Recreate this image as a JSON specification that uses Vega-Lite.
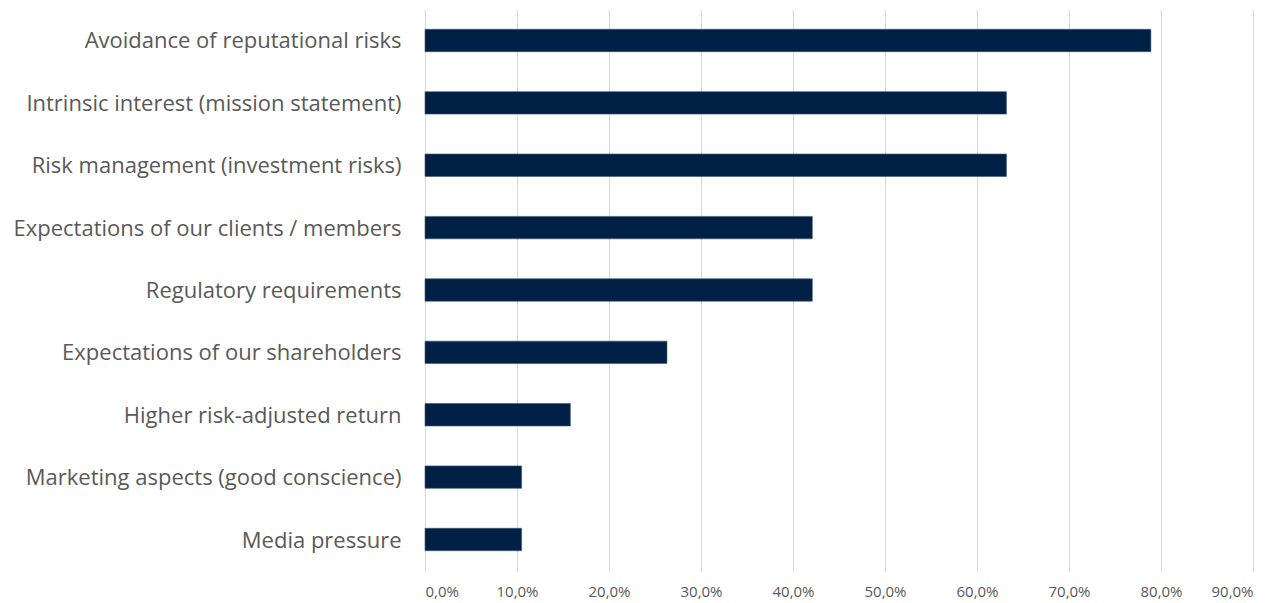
{
  "$schema": "https://vega.github.io/schema/vega-lite/v6.json",
  "autosize": {"type": "none"},
  "padding": {"left": 425, "top": 9, "right": 24, "bottom": 32},
  "width": 828,
  "height": 562,
  "background": "white",
  "config": {"view": {"stroke": null}},
  "data": {"values": [
    {"category": "Avoidance of reputational risks", "value": 0.789},
    {"category": "Intrinsic interest (mission statement)", "value": 0.632},
    {"category": "Risk management (investment risks)", "value": 0.632},
    {"category": "Expectations of our clients / members", "value": 0.421},
    {"category": "Regulatory requirements", "value": 0.421},
    {"category": "Expectations of our shareholders", "value": 0.263},
    {"category": "Higher risk-adjusted return", "value": 0.158},
    {"category": "Marketing aspects (good conscience)", "value": 0.105},
    {"category": "Media pressure", "value": 0.105}
  ]},
  "mark": {"type": "bar", "color": "#002045", "stroke": "#3a5878", "strokeWidth": 0.6},
  "encoding": {
    "y": {
      "field": "category", "type": "nominal", "sort": null,
      "scale": {"paddingInner": 0.64, "paddingOuter": 0.325},
      "axis": {"title": null, "domain": false, "ticks": false, "labelFont": "Open Sans", "labelFontSize": 22, "labelColor": "#595959", "labelPadding": 24, "labelLimit": 500, "labelBaseline": "middle", "labelOffset": 1}
    },
    "x": {
      "field": "value", "type": "quantitative",
      "scale": {"domain": [0, 0.9], "nice": false},
      "axis": {"title": null, "values": [0, 0.1, 0.2, 0.3, 0.4, 0.5, 0.6, 0.7, 0.8, 0.9], "labelExpr": "replace(format(datum.value, '.1%'), '.', ',')", "domain": false, "ticks": false, "grid": true, "gridColor": "#d9d9d9", "gridWidth": 1, "labelFont": "Open Sans", "labelFontSize": 15, "labelColor": "#595959", "labelPadding": 13}
    }
  }
}
